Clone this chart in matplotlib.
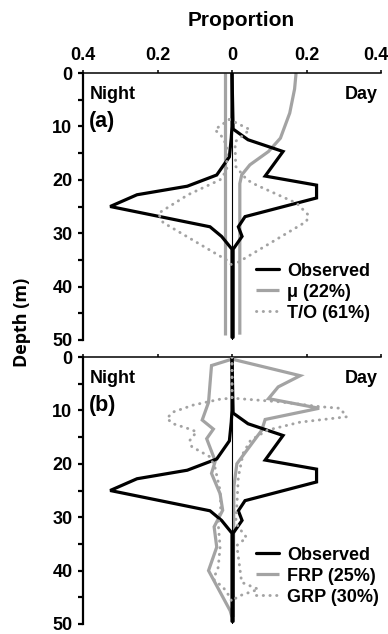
import matplotlib
matplotlib.use("Agg")
import matplotlib.pyplot as plt
from matplotlib.lines import Line2D
from matplotlib.transforms import ScaledTranslation
import numpy as np

plt.rcParams['font.family'] = ['Liberation Sans', 'DejaVu Sans']
plt.rcParams['font.weight'] = 'bold'

# Observed vertical distribution (same in both panels); night drawn to the left
obs_night_depth = [0, 10, 12.2, 15.7, 17.8, 19.1, 21.2, 22.8, 25, 28.8, 30.6, 33, 49.5]
obs_night_prop = [0.0, 0.0, 0.002, 0.007, 0.028, 0.041, 0.12, 0.255, 0.327, 0.059, 0.028, 0.0, 0.0]
obs_day_depth = [0, 10.5, 12.5, 14.7, 19.3, 21, 23.4, 26.9, 28.8, 30.6, 33, 49.5]
obs_day_prop = [0.0, 0.003, 0.043, 0.137, 0.089, 0.227, 0.227, 0.035, 0.017, 0.027, 0.003, 0.003]

# (a) mu model
mu_night_depth = [0, 49]
mu_night_prop = [0.02, 0.02]
mu_day_depth = [0, 3, 7.5, 12.2, 14.7, 17.2, 19.1, 20.7, 49]
mu_day_prop = [0.172, 0.168, 0.155, 0.13, 0.098, 0.048, 0.026, 0.021, 0.021]

# (a) T/O model
to_night_depth = [8.7, 10.6, 12.2, 14, 18.2, 20, 22.8, 26.3, 28, 35, 36]
to_night_prop = [0.007, 0.046, 0.023, 0.014, 0.014, 0.032, 0.118, 0.198, 0.185, 0.015, 0.0]
to_day_depth = [8.7, 10.6, 12.9, 17.5, 20, 21, 24.4, 26.6, 27.8, 35.3, 36]
to_day_prop = [-0.007, 0.048, 0.008, 0.01, 0.04, 0.066, 0.174, 0.205, 0.2, 0.02, 0.003]

# (b) FRP model
frp_night_depth = [0.4, 1.6, 5, 8.5, 11.8, 13.5, 15.3, 19.5, 21.8, 25.6, 28.7, 31.8, 35.6, 40, 47.5, 48.7]
frp_night_prop = [0.0, 0.055, 0.059, 0.063, 0.08, 0.05, 0.068, 0.045, 0.055, 0.032, 0.025, 0.048, 0.041, 0.063, 0.005, 0.0]
frp_day_depth = [0.4, 3.5, 5.6, 7.8, 9.6, 11.7, 13.7, 20, 24.3, 48.7]
frp_day_prop = [0.0, 0.183, 0.124, 0.098, 0.234, 0.089, 0.08, 0.013, 0.005, 0.003]

# (b) GRP model
grp_night_depth = [0, 7.7, 7.9, 9, 10.3, 11.5, 12.5, 13.4, 14, 15.6, 16.8, 18.7, 20.6, 25,
                   28, 31.2, 35.6, 39.4, 41.6, 43.2, 45, 46]
grp_night_prop = [0.0, 0.0, 0.032, 0.104, 0.158, 0.175, 0.158, 0.118, 0.095, 0.113, 0.108, 0.059,
                  0.046, 0.032, 0.03, 0.037, 0.032, 0.037, 0.05, 0.023, 0.005, 0.0]
grp_day_depth = [0, 7.7, 8.4, 9.3, 9.6, 11.2, 12.2, 13.7, 15.6, 18, 22.5, 28, 31, 32.2, 33.8,
                 35.3, 42.2, 43.5, 44.7, 45.6]
grp_day_prop = [0.0, 0.0, 0.129, 0.236, 0.29, 0.308, 0.183, 0.095, 0.05, 0.03, 0.017, 0.013,
                0.01, 0.021, 0.039, 0.013, 0.026, 0.071, 0.021, 0.0]

x_ticks = [-0.4, -0.2, 0, 0.2, 0.4]
x_tick_labels = ['0.4', '0.2', '0', '0.2', '0.4']
depth_ticks = [0, 10, 20, 30, 40, 50]

GREY = '#a3a3a3'
solid_black = dict(color='black', lw=2.3, solid_capstyle='round', solid_joinstyle='miter', zorder=3)
solid_grey = dict(color=GREY, lw=2.3, solid_capstyle='butt', solid_joinstyle='miter', zorder=2)
dotted_grey = dict(color=GREY, lw=2.1, linestyle=(0, (0.1, 2.2)), dash_capstyle='round', zorder=4)


def kite(ax, night_d, night_p, day_d, day_p, style):
    ax.plot(-np.asarray(night_p), night_d, **style)
    ax.plot(day_p, day_d, **style)


def setup(ax, show_labels):
    ax.set_xlim(-0.4, 0.4)
    ax.set_ylim(50, 0)
    ax.xaxis.tick_top()
    ax.set_xticks(x_ticks)
    ax.set_xticklabels(x_tick_labels if show_labels else [])
    ax.set_yticks(depth_ticks)
    ax.set_yticks(np.arange(5, 50, 10), minor=True)
    for s in ['right', 'bottom']:
        ax.spines[s].set_visible(False)
    ax.spines['left'].set_linewidth(1.6)
    ax.spines['top'].set_linewidth(1.1)
    ax.tick_params(axis='x', which='major', direction='out', length=2.5, width=1.1,
                   pad=4, labelsize=13)
    ax.tick_params(axis='y', which='both', direction='out', length=3.6, width=1.6,
                   pad=4, labelsize=13)
    ax.axvline(0, color='black', lw=0.8, zorder=2.5)


fig = plt.figure(figsize=(3.88, 6.34), dpi=100)
W, H = 388, 634
ax_a = fig.add_axes([83 / W, 1 - 340 / H, 298 / W, 267 / H])
ax_b = fig.add_axes([83 / W, 1 - 624 / H, 298 / W, 267 / H])

setup(ax_a, True)
setup(ax_b, False)

# keep the right-hand "0.4" inside the figure
last = ax_a.get_xticklabels()[-1]
last.set_transform(last.get_transform() + ScaledTranslation(-5 / 100, 0, fig.dpi_scale_trans))

kite(ax_a, mu_night_depth, mu_night_prop, mu_day_depth, mu_day_prop, solid_grey)
kite(ax_a, obs_night_depth, obs_night_prop, obs_day_depth, obs_day_prop, solid_black)
kite(ax_a, to_night_depth, to_night_prop, to_day_depth, to_day_prop, dotted_grey)

kite(ax_b, frp_night_depth, frp_night_prop, frp_day_depth, frp_day_prop, solid_grey)
kite(ax_b, obs_night_depth, obs_night_prop, obs_day_depth, obs_day_prop, solid_black)
kite(ax_b, grp_night_depth, grp_night_prop, grp_day_depth, grp_day_prop, dotted_grey)

for ax, tag in [(ax_a, '(a)'), (ax_b, '(b)')]:
    ax.text(0.023, 0.95, 'Night', transform=ax.transAxes, fontsize=13,
            fontweight='bold', ha='left', va='top')
    ax.text(0.99, 0.95, 'Day', transform=ax.transAxes, fontsize=13,
            fontweight='bold', ha='right', va='top')
    ax.text(0.02, 0.818, tag, transform=ax.transAxes, fontsize=15.5,
            fontweight='bold', ha='left', va='center')


def legend(ax, labels):
    handles = [Line2D([], [], **solid_black), Line2D([], [], **solid_grey),
               Line2D([], [], **dotted_grey)]
    ax.legend(handles, labels, loc='upper left', bbox_to_anchor=(0.58, 0.29),
              frameon=False, handlelength=1.3, handletextpad=0.45, labelspacing=0.22,
              borderaxespad=0, borderpad=0, prop=dict(size=13, weight='bold'))


legend(ax_a, ['Observed', 'μ (22%)', 'T/O (61%)'])
legend(ax_b, ['Observed', 'FRP (25%)', 'GRP (30%)'])

fig.text(241 / W, 1 - 21 / H, 'Proportion', fontsize=15, fontweight='bold',
         ha='center', va='center')
fig.text(22 / W, 1 - 322 / H, 'Depth (m)', fontsize=13, fontweight='bold',
         family='Open Sans', rotation=90, ha='center', va='center')

fig.savefig('out.png', dpi=100)
